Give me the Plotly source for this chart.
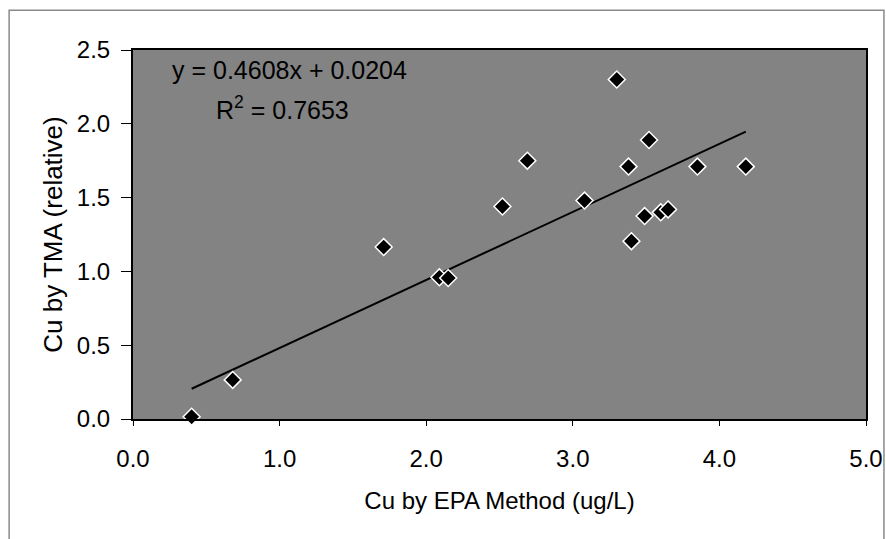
import plotly.graph_objects as go

# Data
epa_x = [0.40, 0.68, 1.71, 2.09, 2.15, 2.52, 2.69, 3.08, 3.30, 3.38, 3.52,
         3.40, 3.49, 3.60, 3.65, 3.85, 4.18]
tma_y = [0.015, 0.265, 1.165, 0.96, 0.955, 1.44, 1.75, 1.48, 2.30, 1.71, 1.89,
         1.205, 1.375, 1.40, 1.42, 1.71, 1.71]
slope = 0.4608
intercept = 0.0204
r2 = 0.7653
x_ticks = [0.0, 1.0, 2.0, 3.0, 4.0, 5.0]
y_ticks = [0.0, 0.5, 1.0, 1.5, 2.0, 2.5]

trend_x = [min(epa_x), max(epa_x)]
trend_y = [slope * v + intercept for v in trend_x]

FONT = "Liberation Sans, Arial, sans-serif"

fig = go.Figure()
fig.add_trace(go.Scatter(x=trend_x, y=trend_y, mode="lines",
                         line=dict(color="black", width=2), showlegend=False,
                         hoverinfo="skip"))
fig.add_trace(go.Scatter(x=epa_x, y=tma_y, mode="markers",
                         marker=dict(symbol="diamond", size=13, color="black",
                                     line=dict(color="white", width=1.5)),
                         showlegend=False, cliponaxis=False))

fig.add_annotation(x=0.05, y=0.946, xref="paper", yref="paper",
                   text=f"y = {slope}x + {intercept}", showarrow=False,
                   xanchor="left", yanchor="middle",
                   font=dict(family=FONT, size=25, color="black"))
fig.add_annotation(x=0.11, y=0.843, xref="paper", yref="paper",
                   text=f"R<sup>2</sup> = {r2}", showarrow=False,
                   xanchor="left", yanchor="middle",
                   font=dict(family=FONT, size=25, color="black"))

# outer chart border
fig.add_shape(type="rect", xref="paper", yref="paper",
              x0=-0.169, x1=1.0245, y0=-0.36, y1=1.108,
              line=dict(color="#8a8a8a", width=1.5), layer="below")

fig.update_layout(
    width=886, height=539,
    margin=dict(l=133, r=20, t=50, b=120, autoexpand=False),
    paper_bgcolor="white",
    plot_bgcolor="#838383",
    font=dict(family=FONT, size=24, color="black"),
    xaxis=dict(range=[0, 5], tickvals=x_ticks,
               ticktext=[f"{v:.1f}" for v in x_ticks],
               ticks="outside", ticklen=5, tickcolor="black",
               ticklabelstandoff=12, automargin=False,
               showgrid=False, zeroline=False,
               showline=True, linecolor="black", linewidth=2, mirror=True,
               title=dict(text="Cu by EPA Method (ug/L)", standoff=21,
                          font=dict(size=24)),
               tickfont=dict(size=24)),
    yaxis=dict(range=[0, 2.5], tickvals=y_ticks,
               ticktext=[f"{v:.1f}" for v in y_ticks],
               ticks="outside", ticklen=10, tickcolor="black",
               ticklabelstandoff=6, automargin=False,
               showgrid=False, zeroline=False,
               showline=True, linecolor="black", linewidth=2, mirror=True,
               title=dict(text="Cu by TMA (relative)", standoff=7,
                          font=dict(size=26)),
               tickfont=dict(size=24)),
)

fig.write_html("out.html")
